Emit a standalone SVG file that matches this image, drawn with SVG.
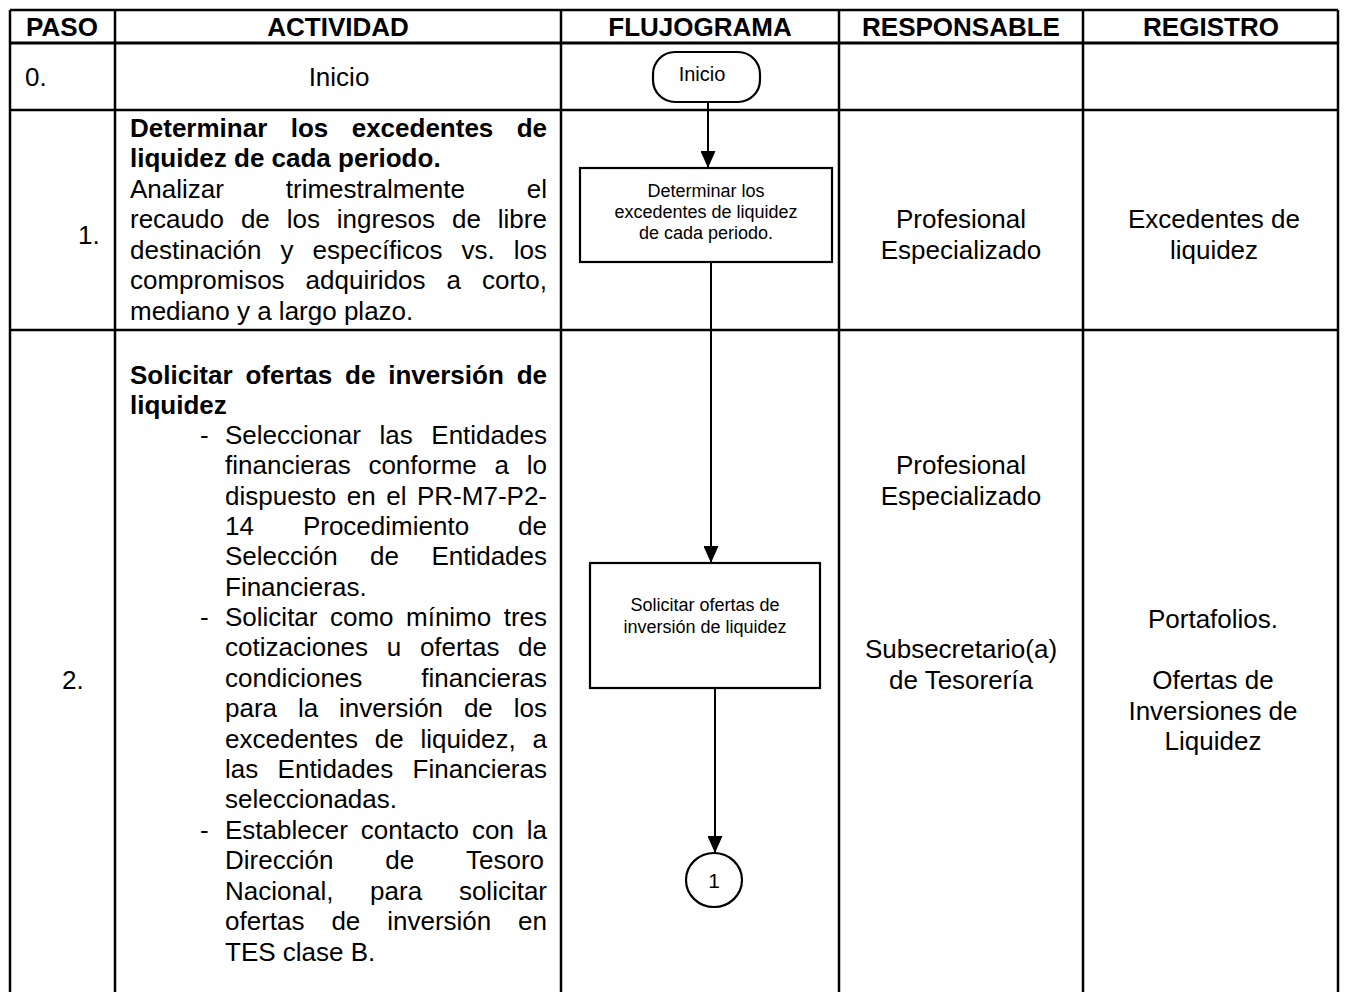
<svg xmlns="http://www.w3.org/2000/svg" width="1346" height="992" viewBox="0 0 1346 992">
<style>
.t{font-family:"Liberation Sans",Arial,sans-serif;font-size:26px;fill:#000}
.b{font-weight:bold}
.c{text-anchor:middle}
.s{font-size:18px}
.g{stroke:#000;stroke-width:2.5;fill:none}
.sh{stroke:#000;stroke-width:2.2;fill:#fff}
.cn{stroke:#000;stroke-width:2;fill:none}
</style>
<defs>
<marker id="ah" markerWidth="17" markerHeight="15" refX="17" refY="7.5" orient="auto" markerUnits="userSpaceOnUse" viewBox="0 0 17 15">
<path d="M0,0 L17,7.5 L0,15 Z" fill="#000"/>
</marker>
</defs>
<rect width="1346" height="992" fill="#fff"/>
<g id="grid">
<line class="g" x1="10" y1="10" x2="1338" y2="10"/>
<line class="g" x1="10" y1="43" x2="1338" y2="43" style="stroke-width:3"/>
<line class="g" x1="10" y1="110" x2="1338" y2="110"/>
<line class="g" x1="10" y1="330" x2="1338" y2="330"/>
<line class="g" x1="10" y1="10" x2="10" y2="992"/>
<line class="g" x1="115" y1="10" x2="115" y2="992"/>
<line class="g" x1="561" y1="10" x2="561" y2="992"/>
<line class="g" x1="839" y1="10" x2="839" y2="992"/>
<line class="g" x1="1083" y1="10" x2="1083" y2="992"/>
<line class="g" x1="1338" y1="10" x2="1338" y2="992"/>
</g>
<g id="header">
<text class="t b c" x="62" y="36">PASO</text>
<text class="t b c" x="338" y="36">ACTIVIDAD</text>
<text class="t b c" x="700" y="36">FLUJOGRAMA</text>
<text class="t b c" x="961" y="36">RESPONSABLE</text>
<text class="t b c" x="1211" y="36">REGISTRO</text>
</g>
<g id="row0">
<text class="t" x="25" y="86">0.</text>
<text class="t c" x="339" y="86">Inicio</text>
</g>
<g id="row1">
<text class="t" x="78" y="244">1.</text>
<text class="t b" y="137"><tspan x="130">Determinar</tspan><tspan x="290.7">los</tspan><tspan x="351.7">excedentes</tspan><tspan x="516.7">de</tspan></text>
<text class="t b" x="130" y="167">liquidez de cada periodo.</text>
<text class="t" y="198"><tspan x="130">Analizar</tspan><tspan x="285.8">trimestralmente</tspan><tspan x="526.8">el</tspan></text>
<text class="t" y="228"><tspan x="130">recaudo</tspan><tspan x="240.9">de</tspan><tspan x="286.7">los</tspan><tspan x="336.8">ingresos</tspan><tspan x="452">de</tspan><tspan x="497.8">libre</tspan></text>
<text class="t" y="259"><tspan x="130">destinación</tspan><tspan x="280.5">y</tspan><tspan x="312.5">específicos</tspan><tspan x="461.5">vs.</tspan><tspan x="513.8">los</tspan></text>
<text class="t" y="289"><tspan x="130">compromisos</tspan><tspan x="305.6">adquiridos</tspan><tspan x="446.5">a</tspan><tspan x="482">corto,</tspan></text>
<text class="t" x="130" y="320">mediano y a largo plazo.</text>
<text class="t c" x="961" y="228">Profesional</text>
<text class="t c" x="961" y="259">Especializado</text>
<text class="t c" x="1214" y="228">Excedentes de</text>
<text class="t c" x="1214" y="259">liquidez</text>
</g>
<g id="row2">
<text class="t" x="62" y="689">2.</text>
<text class="t b" y="384"><tspan x="130">Solicitar</tspan><tspan x="245.4">ofertas</tspan><tspan x="345">de</tspan><tspan x="388.2">inversión</tspan><tspan x="516.7">de</tspan></text>
<text class="t b" x="130" y="414">liquidez</text>
<text class="t" x="200" y="444">-</text>
<text class="t" y="444"><tspan x="225">Seleccionar</tspan><tspan x="379.5">las</tspan><tspan x="431.3">Entidades</tspan></text>
<text class="t" y="474"><tspan x="225">financieras</tspan><tspan x="368.4">conforme</tspan><tspan x="494.5">a</tspan><tspan x="526.8">lo</tspan></text>
<text class="t" y="505"><tspan x="225">dispuesto</tspan><tspan x="346.8">en</tspan><tspan x="386.2">el</tspan><tspan x="417">PR-M7-P2-</tspan></text>
<text class="t" y="535"><tspan x="225">14</tspan><tspan x="302.9">Procedimiento</tspan><tspan x="518.1">de</tspan></text>
<text class="t" y="565"><tspan x="225">Selección</tspan><tspan x="370.1">de</tspan><tspan x="431.4">Entidades</tspan></text>
<text class="t" x="225" y="596">Financieras.</text>
<text class="t" x="200" y="626">-</text>
<text class="t" y="626"><tspan x="225">Solicitar</tspan><tspan x="330">como</tspan><tspan x="406">mínimo</tspan><tspan x="503.7">tres</tspan></text>
<text class="t" y="656"><tspan x="225">cotizaciones</tspan><tspan x="386.7">u</tspan><tspan x="419.9">ofertas</tspan><tspan x="518.1">de</tspan></text>
<text class="t" y="687"><tspan x="225">condiciones</tspan><tspan x="421.3">financieras</tspan></text>
<text class="t" y="717"><tspan x="225">para</tspan><tspan x="297.9">la</tspan><tspan x="339">inversión</tspan><tspan x="463.9">de</tspan><tspan x="513.7">los</tspan></text>
<text class="t" y="748"><tspan x="225">excedentes</tspan><tspan x="374.7">de</tspan><tspan x="420.4">liquidez,</tspan><tspan x="532.5">a</tspan></text>
<text class="t" y="778"><tspan x="225">las</tspan><tspan x="277.6">Entidades</tspan><tspan x="412.6">Financieras</tspan></text>
<text class="t" x="225" y="808">seleccionadas.</text>
<text class="t" x="200" y="839">-</text>
<text class="t" y="839"><tspan x="225">Establecer</tspan><tspan x="360.8">contacto</tspan><tspan x="472">con</tspan><tspan x="526.8">la</tspan></text>
<text class="t" y="869"><tspan x="225">Dirección</tspan><tspan x="385.2">de</tspan><tspan x="466">Tesoro</tspan></text>
<text class="t" y="900"><tspan x="225">Nacional,</tspan><tspan x="370.1">para</tspan><tspan x="458.9">solicitar</tspan></text>
<text class="t" y="930"><tspan x="225">ofertas</tspan><tspan x="331.4">de</tspan><tspan x="387.2">inversión</tspan><tspan x="518.1">en</tspan></text>
<text class="t" x="225" y="961">TES clase B.</text>
<text class="t c" x="961" y="474">Profesional</text>
<text class="t c" x="961" y="505">Especializado</text>
<text class="t c" x="961" y="658">Subsecretario(a)</text>
<text class="t c" x="961" y="689">de Tesorería</text>
<text class="t c" x="1213" y="628">Portafolios.</text>
<text class="t c" x="1213" y="689">Ofertas de</text>
<text class="t c" x="1213" y="720">Inversiones de</text>
<text class="t c" x="1213" y="750">Liquidez</text>
</g>
<g id="connectors">
<line class="cn" x1="708" y1="102" x2="708" y2="168" marker-end="url(#ah)"/>
<line class="cn" x1="711" y1="262" x2="711" y2="563" marker-end="url(#ah)"/>
<line class="cn" x1="715" y1="688" x2="715" y2="853" marker-end="url(#ah)"/>
</g>
<g id="node-inicio">
<rect class="sh" x="653" y="52" width="107" height="50" rx="22" ry="22"/>
<text class="t c" x="702" y="81" style="font-size:20px">Inicio</text>
</g>
<g id="node-determinar">
<rect class="sh" x="580" y="168" width="252" height="94"/>
<text class="t s c" x="706" y="197">Determinar los</text>
<text class="t s c" x="706" y="218">excedentes de liquidez</text>
<text class="t s c" x="706" y="239">de cada periodo.</text>
</g>
<g id="node-solicitar">
<rect class="sh" x="590" y="563" width="230" height="125"/>
<text class="t s c" x="705" y="611">Solicitar ofertas de</text>
<text class="t s c" x="705" y="633">inversión de liquidez</text>
</g>
<g id="node-conector1">
<ellipse class="sh" cx="714" cy="880" rx="28" ry="27"/>
<text class="t c" x="714" y="888" style="font-size:21px">1</text>
</g>
</svg>
